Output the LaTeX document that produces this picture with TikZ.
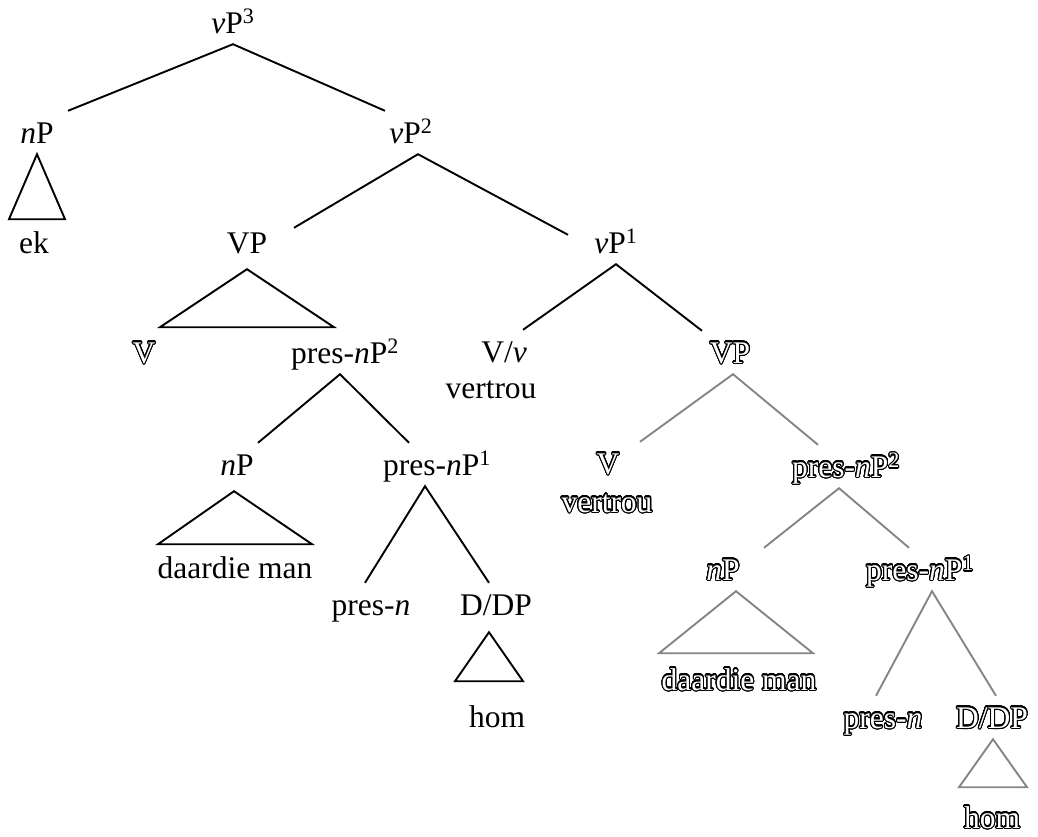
\documentclass[tikz,border=0pt]{standalone}
\usepackage{fontspec}
\setmainfont{Liberation Serif}
\usepackage{contour}
\contourlength{1.1pt}
\contournumber{32}
\newcommand{\hollow}[1]{\contour{black}{\textcolor{white}{#1}}}

\begin{document}
\begin{tikzpicture}[x=1pt,y=-1pt,
    lbl/.style={font=\fontsize{31.5}{37}\selectfont, inner xsep=0pt, inner ysep=11pt,
                text height=21pt, text depth=0pt},
    branch/.style={line width=1.9pt, line join=miter},
    faint/.style={branch, draw=black!48}]
    \useasboundingbox (0,0) rectangle (1038,836);

    \node[lbl] (vP3) at (233,22.5) {\textit{v}P\textsuperscript{3}};
    \node[lbl] (nP1) at (37,132.5) {\textit{n}P};
    \node[lbl] (vP2) at (411,132.5) {\textit{v}P\textsuperscript{2}};
    \node[lbl] (ek) at (34,242.5) {ek};
    \node[lbl] (VP1) at (247,242.5) {VP};
    \node[lbl] (vP1) at (616,242.5) {\textit{v}P\textsuperscript{1}};
    \node[lbl] (V1) at (144,352.5) {\hollow{V}};
    \node[lbl] (pnP2) at (345,352.5) {pres-\textit{n}P\textsuperscript{2}};
    \node[lbl] (Vv) at (504,351.5) {V/\textit{v}};
    \node[lbl] (vertrou1) at (491,387.5) {vertrou};
    \node[lbl] (VP2) at (730,352.5) {\hollow{VP}};
    \node[lbl] (nP2) at (237,464.5) {\textit{n}P};
    \node[lbl] (pnP1) at (437,464.5) {pres-\textit{n}P\textsuperscript{1}};
    \node[lbl] (man1) at (235,567.5) {daardie man};
    \node[lbl] (presn) at (371,604.5) {pres-\textit{n}};
    \node[lbl] (DDP) at (496,604.5) {D/DP};
    \node[lbl] (hom1) at (497,716.5) {hom};

    \node[lbl] (V2) at (608,463.5) {\hollow{V}};
    \node[lbl] (vertrou2) at (607,501.5) {\hollow{vertrou}};
    \node[lbl] (pnP2b) at (846,466.5) {\hollow{pres-\textit{n}P\textsuperscript{2}}};
    \node[lbl] (nP3) at (723,569.5) {\hollow{\textit{n}P}};
    \node[lbl] (pnP1b) at (920,569.5) {\hollow{pres-\textit{n}P\textsuperscript{1}}};
    \node[lbl] (man2) at (739,679.5) {\hollow{daardie man}};
    \node[lbl] (presnb) at (883,717.5) {\hollow{pres-\textit{n}}};
    \node[lbl] (DDPb) at (992,717.5) {\hollow{D/DP}};
    \node[lbl] (hom2) at (992,817.5) {\hollow{hom}};

    \draw[branch] ([xshift=31]nP1.north) -- (vP3.south) -- ([xshift=-26]vP2.north);
    \draw[branch] (nP1.south) -- ++(-28,65) -- ++(56,0) -- cycle;
    \draw[branch] ([xshift=47,yshift=-7]VP1.north) -- ([xshift=7]vP2.south)
        -- ([xshift=-48,yshift=-14]vP1.north);
    \draw[branch] ([yshift=-5]VP1.south) -- ++(-87,58) -- ++(174,0) -- cycle;
    \draw[branch] ([xshift=21]nP2.north) -- ([xshift=-5]pnP2.south) -- ([xshift=-28]pnP1.north);
    \draw[branch] ([xshift=-3,yshift=-5]nP2.south) -- ++(-76,53) -- ++(154,0) -- cycle;
    \draw[branch] ([xshift=-6]presn.north) -- ([xshift=-12]pnP1.south) -- ([xshift=-7]DDP.north);
    \draw[branch] ([xshift=-7,yshift=-6]DDP.south) -- ++(-34,49) -- ++(68,0) -- cycle;
    \draw[branch] ([xshift=19]Vv.north) -- (vP1.south) -- ([xshift=-28]VP2.north);

    \draw[faint] ([xshift=32]V2.north) -- ([xshift=3]VP2.south) -- ([xshift=-28]pnP2b.north);
    \draw[faint] ([xshift=41]nP3.north) -- ([xshift=-7]pnP2b.south) -- ([xshift=-11]pnP1b.north);
    \draw[faint] ([xshift=13]nP3.south) -- ++(-77,62) -- ++(154,0) -- cycle;
    \draw[faint] ([xshift=-7]presnb.north) -- ([xshift=12]pnP1b.south) -- ([xshift=4]DDPb.north);
    \draw[faint] ([xshift=1]DDPb.south) -- ++(-34,48) -- ++(68,0) -- cycle;
\end{tikzpicture}
\end{document}
